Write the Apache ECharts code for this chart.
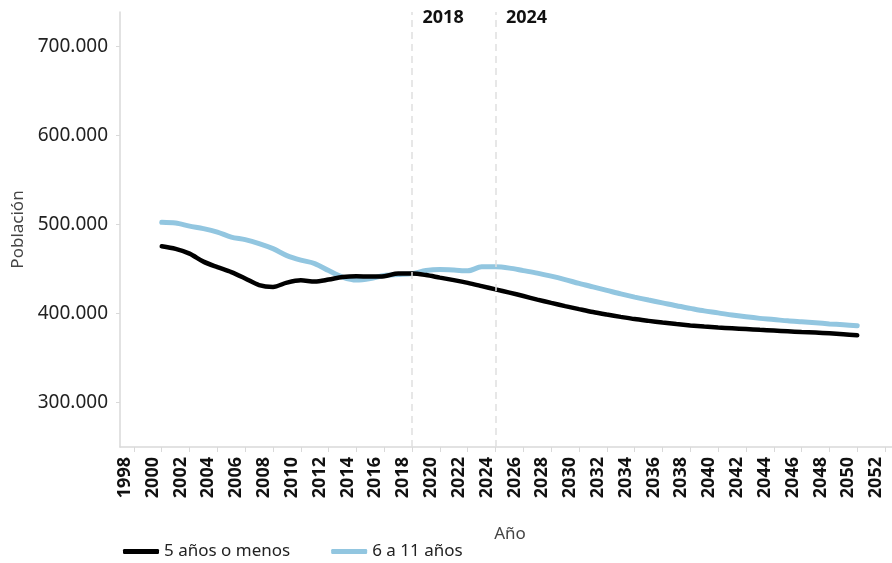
<!DOCTYPE html>
<html>
<head>
<meta charset="utf-8">
<script src="https://cdn.jsdelivr.net/npm/echarts@6/dist/echarts.min.js"></script>
<style>html,body{margin:0;padding:0;background:#fff}#c{width:892px;height:563px}</style>
</head>
<body>
<div id="c"></div>
<script>
var years = [];
for (var y = 2000; y <= 2050; y++) years.push(y);

var menos5 = [475600, 472700, 467400, 458400, 452200, 446600, 439500, 432000, 430000, 434800,
  437400, 436000, 438200, 441000, 441900, 441600, 442000, 445000, 445000,
  443300, 440400, 437600, 434500, 430900, 427200, 423600, 419700, 415700, 412000, 408400,
  405000, 401700, 398900, 396300, 393800, 391800, 389900, 388200, 386700, 385400,
  384300, 383500, 382600, 381700, 380900, 380100, 379300, 378700, 377800, 376700, 375600];

var de6a11 = [502600, 501700, 498300, 495500, 491600, 486000, 483100, 478700, 473000, 465200,
  460100, 456200, 448300, 441000, 437600, 439300, 442700, 443800, 444900,
  448300, 449400, 448900, 448000, 452500, 452500, 451100, 448300, 445500, 442100, 438200,
  433900, 430000, 426100, 422100, 418500, 415200, 412000, 408700, 405800, 403000,
  400800, 398300, 396300, 394600, 393300, 391800, 390700, 389600, 388400, 387400, 386200];

var xTicks = [];
for (var t = 1998; t <= 2052; t += 2) xTicks.push(t);
var yTicks = [300000, 400000, 500000, 600000, 700000];
var refYears = [2018, 2024];
var seriesNames = ['5 años o menos', '6 a 11 años'];

function pairs(vals) { return years.map(function (yr, i) { return [yr, vals[i]]; }); }
function fmtThousands(v) { return String(v).replace(/\B(?=(\d{3})+(?!\d))/g, '.'); }

var FONT = 'Noto Sans';
var chart = echarts.init(document.getElementById('c'), null, {renderer: 'canvas'});
chart.setOption({
  animation: false,
  textStyle: {fontFamily: FONT},
  grid: {left: 120, right: 0, top: 12, bottom: 116, containLabel: false, outerBoundsMode: 'none'},
  legend: {
    left: 118, bottom: -2,
    itemWidth: 36, itemHeight: 5, itemGap: 41,
    icon: 'roundRect',
    textStyle: {fontSize: 17, color: '#222', fontFamily: FONT},
    data: seriesNames
  },
  xAxis: {
    type: 'value', min: 1997, max: 2052.5,
    name: 'Año', nameLocation: 'middle', nameGap: 79,
    nameTextStyle: {fontSize: 17, color: '#444', fontFamily: FONT, padding: [0, 0, 0, 8]},
    splitLine: {show: false},
    axisLine: {show: true, lineStyle: {color: '#d9d9d9', width: 1.5}},
    axisTick: {show: true, customValues: xTicks, length: 5, lineStyle: {color: '#d9d9d9'}},
    axisLabel: {customValues: xTicks, rotate: 90, fontSize: 18, fontWeight: 'bold', color: '#111',
      margin: 10, verticalAlign: 'bottom', fontFamily: FONT, formatter: function (v) { return String(v); }}
  },
  yAxis: {
    type: 'value', min: 250000, max: 739000,
    name: 'Población', nameLocation: 'middle', nameGap: 87,
    nameTextStyle: {fontSize: 17, color: '#444', fontFamily: FONT},
    splitLine: {show: false},
    axisLine: {show: true, lineStyle: {color: '#d9d9d9', width: 1.5}},
    axisTick: {show: true, customValues: yTicks, length: 4, lineStyle: {color: '#d9d9d9'}},
    axisLabel: {customValues: yTicks, fontSize: 19, color: '#222', margin: 12, fontFamily: FONT,
      formatter: function (v) { return fmtThousands(v); }}
  },
  series: [
    {
      name: seriesNames[0], type: 'line', smooth: 0.3, showSymbol: false,
      data: pairs(menos5), z: 3,
      lineStyle: {color: '#000', width: 4.5, cap: 'round'}, itemStyle: {color: '#000'},
      markLine: {
        silent: true, symbol: 'none',
        lineStyle: {color: '#e0e0e0', width: 1.5, type: [7, 5]},
        label: {show: true, position: 'end', formatter: function (p) { return String(p.value); },
          fontSize: 18, fontWeight: 'bold', color: '#111', fontFamily: FONT, offset: [31, 20]},
        data: refYears.map(function (r) { return {xAxis: r}; })
      }
    },
    {
      name: seriesNames[1], type: 'line', smooth: 0.3, showSymbol: false,
      data: pairs(de6a11), z: 2,
      lineStyle: {color: '#92c6e0', width: 5, cap: 'round'}, itemStyle: {color: '#92c6e0'}
    }
  ]
});
</script>
</body>
</html>
